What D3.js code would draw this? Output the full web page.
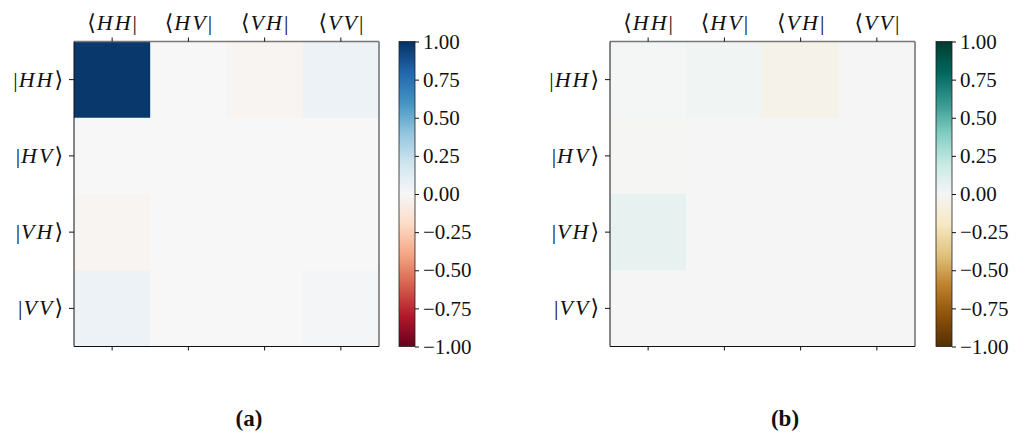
<!DOCTYPE html>
<html><head><meta charset="utf-8">
<script src="https://cdn.jsdelivr.net/npm/d3@7"></script>
<style>
body{margin:0;background:#fff;}
svg{display:block;}
</style></head>
<body>
<svg id="c" width="1016" height="432"></svg>
<script>
const states = ["HH","HV","VH","VV"];
const valuesA = [
  [0.97, 0.00, -0.02, 0.06],
  [0.00, 0.00, 0.00, 0.00],
  [-0.02, 0.00, 0.00, 0.00],
  [0.06, 0.00, 0.00, 0.02]
];
const valuesB = [
  [0.005, 0.02, -0.05, 0.00],
  [-0.005, 0.00, 0.00, 0.00],
  [0.06, 0.00, 0.00, 0.00],
  [0.00, 0.00, 0.00, 0.00]
];
const cbTicks = [1.00, 0.75, 0.50, 0.25, 0.00, -0.25, -0.50, -0.75, -1.00];
const captions = ["(a)", "(b)"];
const rdbu = ["#67001f","#b2182b","#d6604d","#f4a582","#fddbc7","#f7f7f7","#d1e5f0","#92c5de","#4393c3","#2166ac","#053061"];
const brbg = ["#543005","#8c510a","#bf812d","#dfc27d","#f6e8c3","#f5f5f5","#c7eae5","#80cdc1","#35978f","#01665e","#003c30"];

const FONT = "'Liberation Serif', 'DejaVu Serif', serif";
const svg = d3.select("#c").attr("font-family", FONT);
svg.append("rect").attr("width",1016).attr("height",432).attr("fill","#fff");

function mathLabel(sel, s, kind){
  sel.text(null);
  const open = kind==="bra" ? "\u27E8" : "|";
  const close = kind==="bra" ? "|" : "\u27E9";
  sel.append("tspan").attr("font-weight","300").text(open);
  const letters = s.split("");
  letters.forEach((ch,i)=>{
    sel.append("tspan").attr("font-style","italic").attr("dx", i===0 ? 1 : 2).text(ch);
  });
  sel.append("tspan").attr("dx",2).text(close);
}

function panel(x0, values, colors, cbx, caption, capx){
  const interp = d3.piecewise(d3.interpolateRgb, colors);
  const top = 41.5, bottom = 346.5;
  const x = d3.scaleBand().domain(states).range([x0, x0+305]);
  const y = d3.scaleBand().domain(states).range([top, bottom]);
  const color = v => interp((v+1)/2);
  const g = svg.append("g");
  const cells = [];
  values.forEach((row,i)=>row.forEach((v,j)=>cells.push({r:states[i],c:states[j],v})));
  g.selectAll("rect.cell").data(cells).join("rect").attr("class","cell")
    .attr("x",d=>x(d.c)).attr("y",d=>y(d.r))
    .attr("width",x.bandwidth()+0.5).attr("height",y.bandwidth()+0.5)
    .attr("fill",d=>color(d.v));
  g.append("line").attr("x1",x0).attr("x2",x0+305).attr("y1",top).attr("y2",top).attr("stroke","#777").attr("stroke-width",1.6);
  g.append("line").attr("x1",x0+305).attr("x2",x0+305).attr("y1",top).attr("y2",bottom).attr("stroke","#777").attr("stroke-width",1.6);
  g.append("line").attr("x1",x0).attr("x2",x0).attr("y1",top).attr("y2",bottom).attr("stroke","#111").attr("stroke-width",1);
  g.append("line").attr("x1",x0).attr("x2",x0+305).attr("y1",bottom).attr("y2",bottom).attr("stroke","#111").attr("stroke-width",1);

  const ax = svg.append("g").attr("transform",`translate(0,${top})`)
    .call(d3.axisTop(x).tickSize(4).tickPadding(8));
  ax.attr("font-family",FONT).attr("font-size",22);
  ax.select(".domain").remove();
  ax.selectAll("text").each(function(d){ mathLabel(d3.select(this), d, "bra"); });
  const axb = svg.append("g").attr("transform",`translate(0,${bottom})`)
    .call(d3.axisBottom(x).tickSize(4).tickFormat(""));
  axb.select(".domain").remove();
  const ay = svg.append("g").attr("transform",`translate(${x0},0)`)
    .call(d3.axisLeft(y).tickSize(5).tickPadding(6));
  ay.attr("font-family",FONT).attr("font-size",22);
  ay.select(".domain").remove();
  ay.selectAll("text").each(function(d){ mathLabel(d3.select(this), d, "ket"); });

  const cs = d3.scaleLinear().domain([-1,1]).range([bottom, top]);
  const id = "grad"+cbx;
  const grad = svg.append("defs").append("linearGradient").attr("id",id)
    .attr("x1",0).attr("y1",1).attr("x2",0).attr("y2",0);
  colors.forEach((c,i)=>grad.append("stop").attr("offset",i/(colors.length-1)).attr("stop-color",c));
  svg.append("rect").attr("x",cbx).attr("y",top).attr("width",16).attr("height",bottom-top)
    .attr("fill",`url(#${id})`).attr("stroke","#222").attr("stroke-width",0.8);
  const ac = svg.append("g").attr("transform",`translate(${cbx+16},0)`)
    .call(d3.axisRight(cs).tickValues(cbTicks).tickSize(4).tickPadding(4).tickFormat(d3.format(".2f")));
  ac.attr("font-family",FONT).attr("font-size",21);
  ac.select(".domain").remove();

  svg.append("text").attr("x",capx).attr("y",426).attr("text-anchor","middle")
    .attr("font-weight","bold").attr("font-size",23).attr("fill","#111").text(caption);
}

panel(74, valuesA, rdbu, 399, captions[0], 249);
panel(610, valuesB, brbg, 936, captions[1], 785);
svg.selectAll(".tick line").attr("stroke","#111");
svg.selectAll(".tick text").attr("fill","#111");
</script>
</body></html>
